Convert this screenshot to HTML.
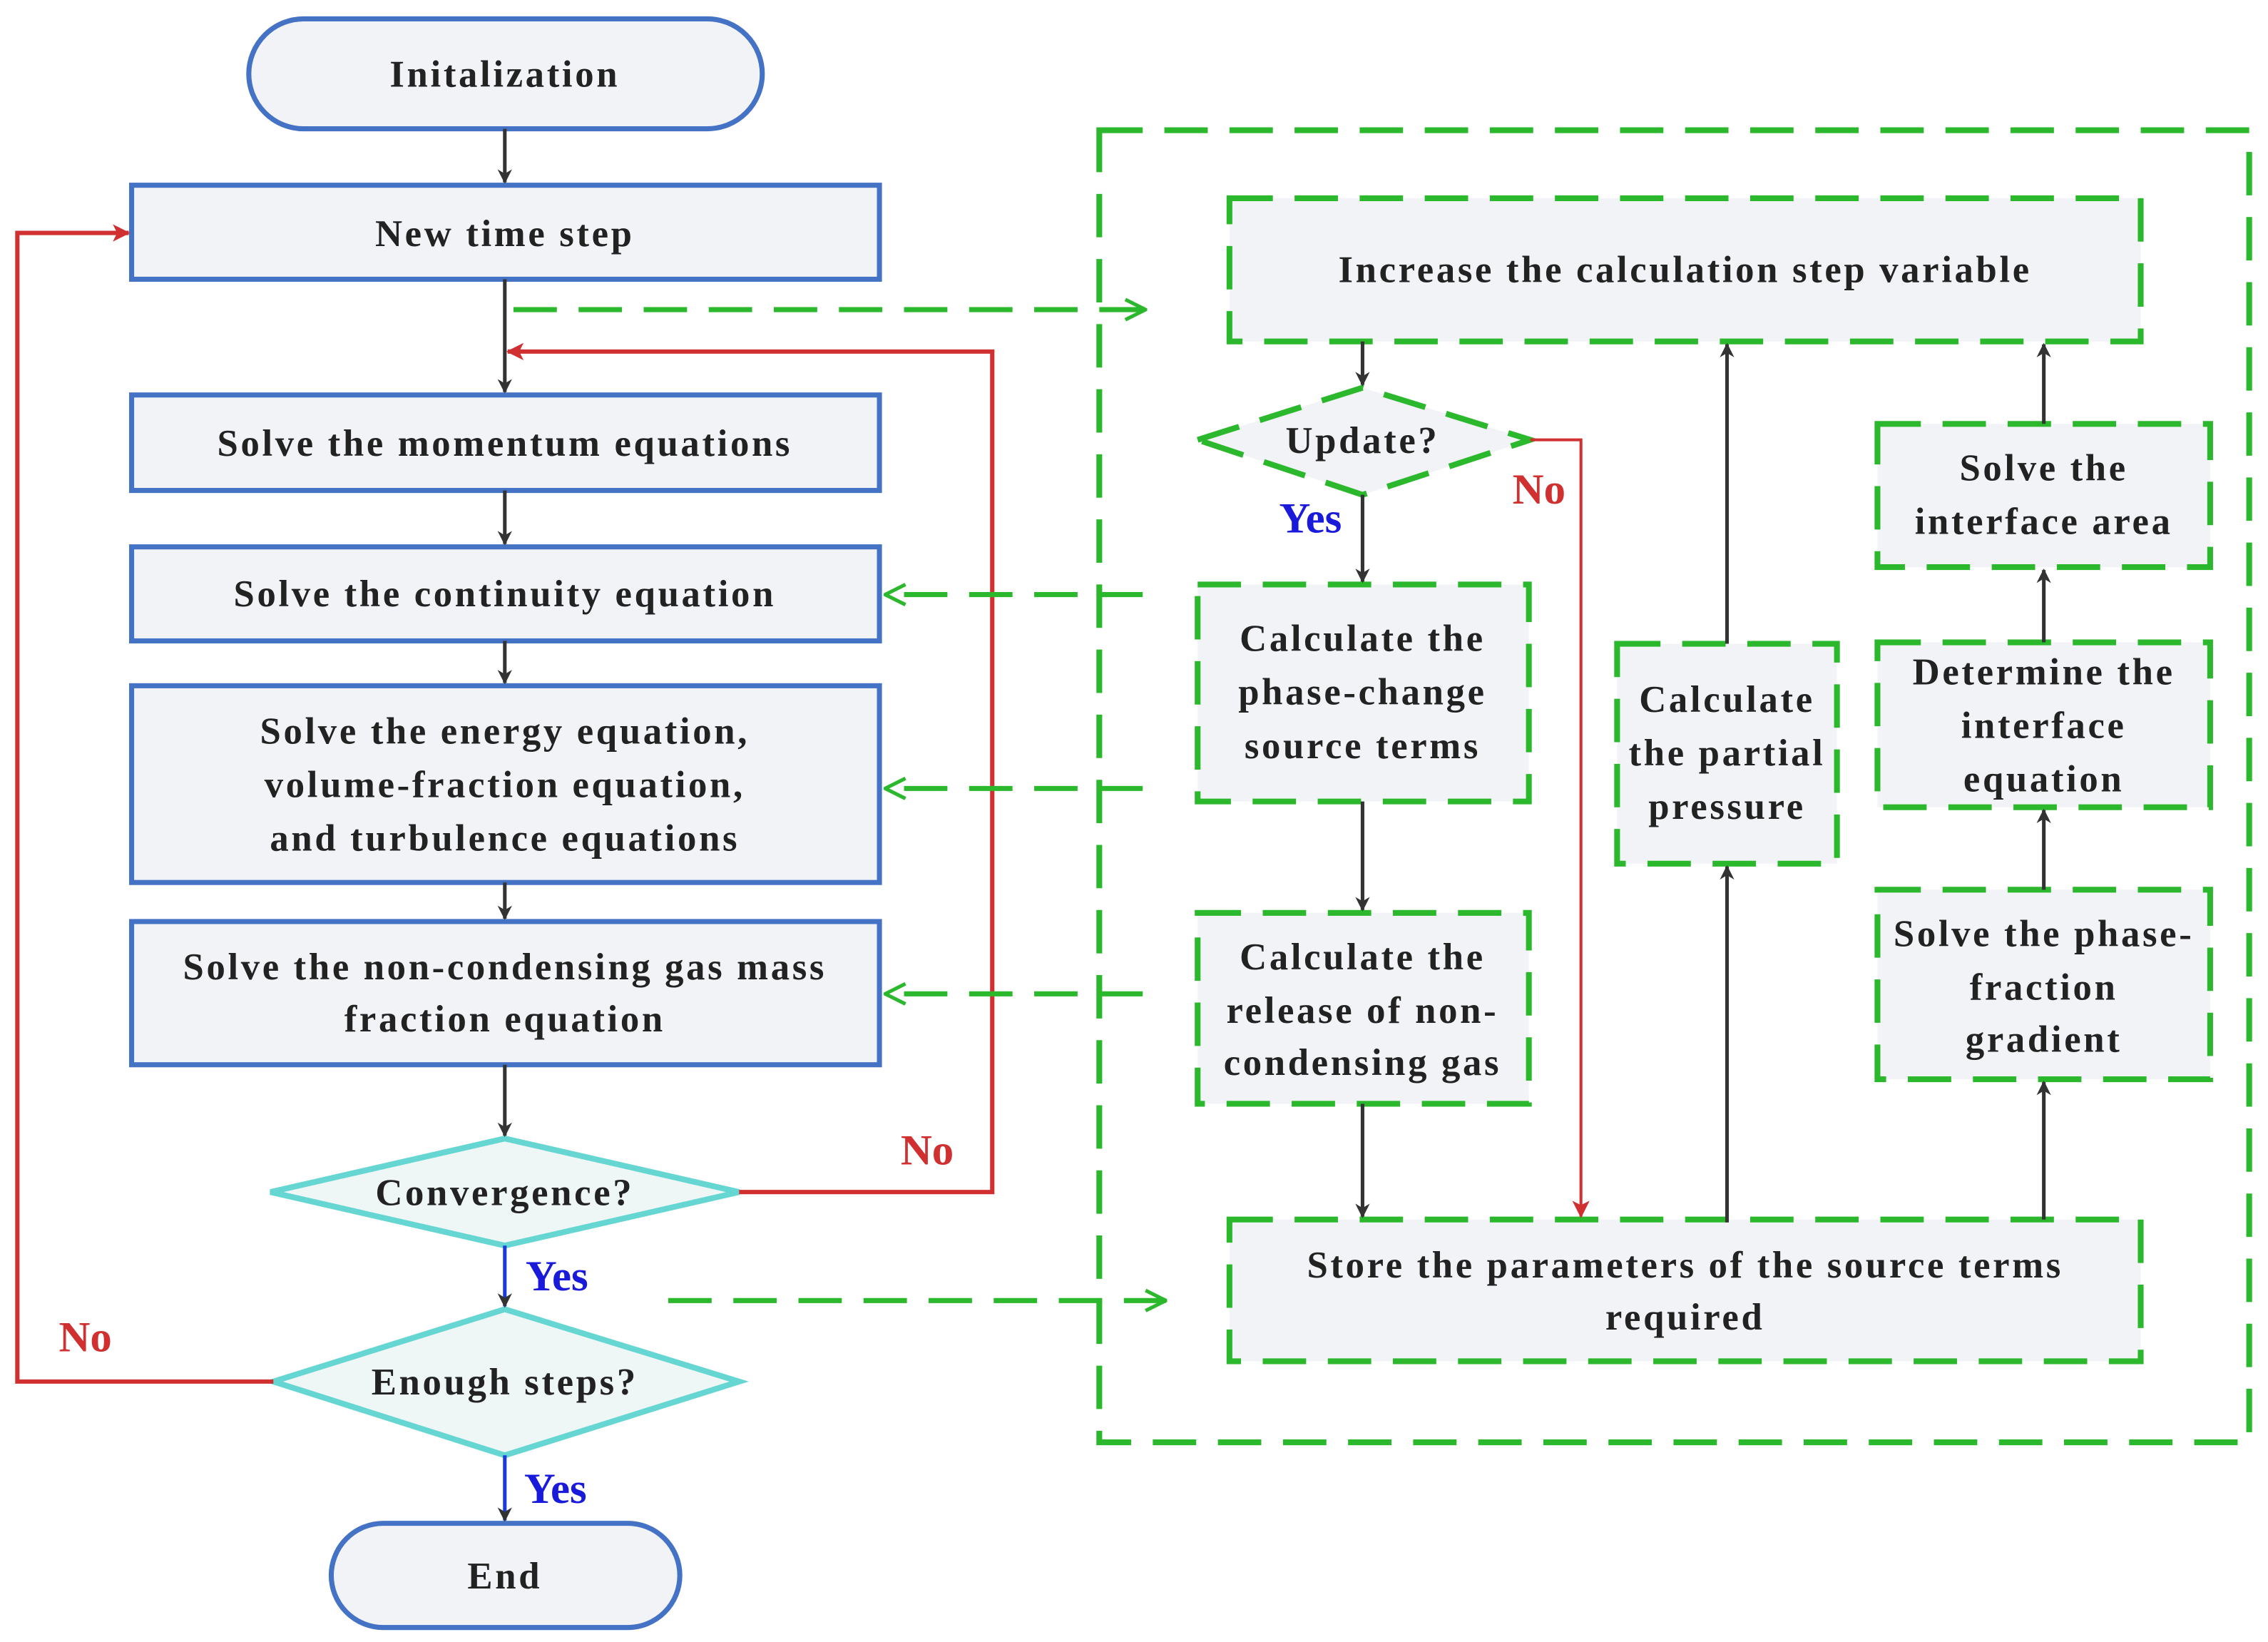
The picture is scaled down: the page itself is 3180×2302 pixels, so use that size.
<!DOCTYPE html>
<html><head><meta charset="utf-8"><style>
html,body{margin:0;padding:0;background:#fff}
svg{display:block}
text{font-family:"Liberation Serif",serif;font-weight:bold;font-size:26px;fill:#222;text-anchor:middle;letter-spacing:1.8px}
</style></head><body>
<svg width="3180" height="2302" viewBox="0 0 1568 1135" xmlns="http://www.w3.org/2000/svg">
<defs>
<marker id="ak" markerWidth="10" markerHeight="10" refX="9" refY="5" orient="auto" markerUnits="userSpaceOnUse"><path d="M0,0 L10,5 L0,10 L3,5 z" fill="#333"/></marker>
<marker id="ar" markerWidth="12" markerHeight="12" refX="11" refY="6" orient="auto" markerUnits="userSpaceOnUse"><path d="M0,0 L12,6 L0,12 L3,6 z" fill="#d03030"/></marker>
<marker id="ag" markerWidth="16" markerHeight="16" refX="15" refY="8" orient="auto" markerUnits="userSpaceOnUse"><path d="M1,1 L15,8 L1,15" fill="none" stroke="#2cb82c" stroke-width="2.5"/></marker>
</defs>
<g fill="#f2f3f7" stroke="#4472c4" stroke-width="3.5">
<rect x="172" y="13" width="355" height="76" rx="38"/>
<rect x="91" y="128" width="517" height="65"/>
<rect x="91" y="273" width="517" height="66"/>
<rect x="91" y="378" width="517" height="65"/>
<rect x="91" y="474" width="517" height="136"/>
<rect x="91" y="637" width="517" height="99"/>
<rect x="229" y="1053" width="241" height="72" rx="36"/>
</g>
<g fill="#eef6f6" stroke="#66d6d2" stroke-width="4">
<polygon points="187,824 349,787 511,824 349,861"/>
<polygon points="189,955 349,905 511,955 349,1006"/>
</g>
<rect x="760" y="90" width="795" height="907" fill="none" stroke="#2cb82c" stroke-width="4" stroke-dasharray="30,15"/>
<g fill="#f2f3f7" stroke="#2cb82c" stroke-width="4" stroke-dasharray="30,15">
<rect x="850" y="137" width="630" height="99"/>
<polygon points="828,304 942,268 1058,304 942,342"/>
<rect x="828" y="404" width="229" height="150"/>
<rect x="828" y="631" width="229" height="132"/>
<rect x="1118" y="445" width="152" height="152"/>
<rect x="1298" y="293" width="230" height="99"/>
<rect x="1298" y="444" width="230" height="114"/>
<rect x="1298" y="615" width="230" height="131"/>
<rect x="850" y="843" width="630" height="98"/>
</g>
<g stroke="#333" stroke-width="2.5" fill="none" marker-end="url(#ak)">
<line x1="349" y1="89" x2="349" y2="126"/>
<line x1="349" y1="193" x2="349" y2="271"/>
<line x1="349" y1="339" x2="349" y2="376"/>
<line x1="349" y1="443" x2="349" y2="472"/>
<line x1="349" y1="610" x2="349" y2="635"/>
<line x1="349" y1="736" x2="349" y2="785"/>
<line x1="942" y1="236" x2="942" y2="266"/>
<line x1="942" y1="342" x2="942" y2="402"/>
<line x1="942" y1="554" x2="942" y2="629"/>
<line x1="942" y1="763" x2="942" y2="841"/>
<line x1="1194" y1="845" x2="1194" y2="599"/>
<line x1="1194" y1="445" x2="1194" y2="238"/>
<line x1="1413" y1="843" x2="1413" y2="748"/>
<line x1="1413" y1="615" x2="1413" y2="560"/>
<line x1="1413" y1="444" x2="1413" y2="394"/>
<line x1="1413" y1="293" x2="1413" y2="238"/>
</g>
<g stroke="#1a3adb" stroke-width="2.5" marker-end="url(#ak)">
<line x1="349" y1="861" x2="349" y2="903"/>
<line x1="349" y1="1006" x2="349" y2="1051"/>
</g>
<g stroke="#d03030" stroke-width="3" fill="none" marker-end="url(#ar)">
<polyline points="189,955 12,955 12,161 89,161"/>
<polyline points="511,824 686,824 686,243 351,243"/>
<polyline points="1058,304 1093,304 1093,841" stroke-width="2"/>
</g>
<g stroke="#2cb82c" stroke-width="3.5" stroke-dasharray="30,15" fill="none" marker-end="url(#ag)">
<line x1="355" y1="214" x2="792" y2="214"/>
<line x1="790" y1="411" x2="612" y2="411"/>
<line x1="790" y1="545" x2="612" y2="545"/>
<line x1="790" y1="687" x2="612" y2="687"/>
<line x1="462" y1="899" x2="806" y2="899"/>
</g>
<text x="349" y="60">Initalization</text>
<text x="349" y="170">New time step</text>
<text x="349" y="315">Solve the momentum equations</text>
<text x="349" y="419">Solve the continuity equation</text>
<text x="349" y="514">Solve the energy equation,</text>
<text x="349" y="551">volume-fraction equation,</text>
<text x="349" y="588">and turbulence equations</text>
<text x="349" y="677">Solve the non-condensing gas mass</text>
<text x="349" y="713">fraction equation</text>
<text x="349" y="833">Convergence?</text>
<text x="349" y="964">Enough steps?</text>
<text x="349" y="1098">End</text>
<text x="1165" y="195">Increase the calculation step variable</text>
<text x="942" y="313">Update?</text>
<text x="942" y="450">Calculate the</text>
<text x="942" y="487">phase-change</text>
<text x="942" y="524">source terms</text>
<text x="942" y="670">Calculate the</text>
<text x="942" y="707">release of non-</text>
<text x="942" y="743">condensing gas</text>
<text x="1194" y="492">Calculate</text>
<text x="1194" y="529">the partial</text>
<text x="1194" y="566">pressure</text>
<text x="1413" y="332">Solve the</text>
<text x="1413" y="369">interface area</text>
<text x="1413" y="473">Determine the</text>
<text x="1413" y="510">interface</text>
<text x="1413" y="547">equation</text>
<text x="1413" y="654">Solve the phase-</text>
<text x="1413" y="691">fraction</text>
<text x="1413" y="727">gradient</text>
<text x="1165" y="883">Store the parameters of the source terms</text>
<text x="1165" y="919">required</text>
<text x="641" y="805" style="fill:#d03030;font-size:30px;letter-spacing:0">No</text>
<text x="59" y="934" style="fill:#d03030;font-size:30px;letter-spacing:0">No</text>
<text x="1064" y="348" style="fill:#d03030;font-size:30px;letter-spacing:0">No</text>
<text x="385" y="892" style="fill:#1a1adb;font-size:30px;letter-spacing:0">Yes</text>
<text x="384" y="1039" style="fill:#1a1adb;font-size:30px;letter-spacing:0">Yes</text>
<text x="906" y="368" style="fill:#1a1adb;font-size:30px;letter-spacing:0">Yes</text>
</svg>
</body></html>
